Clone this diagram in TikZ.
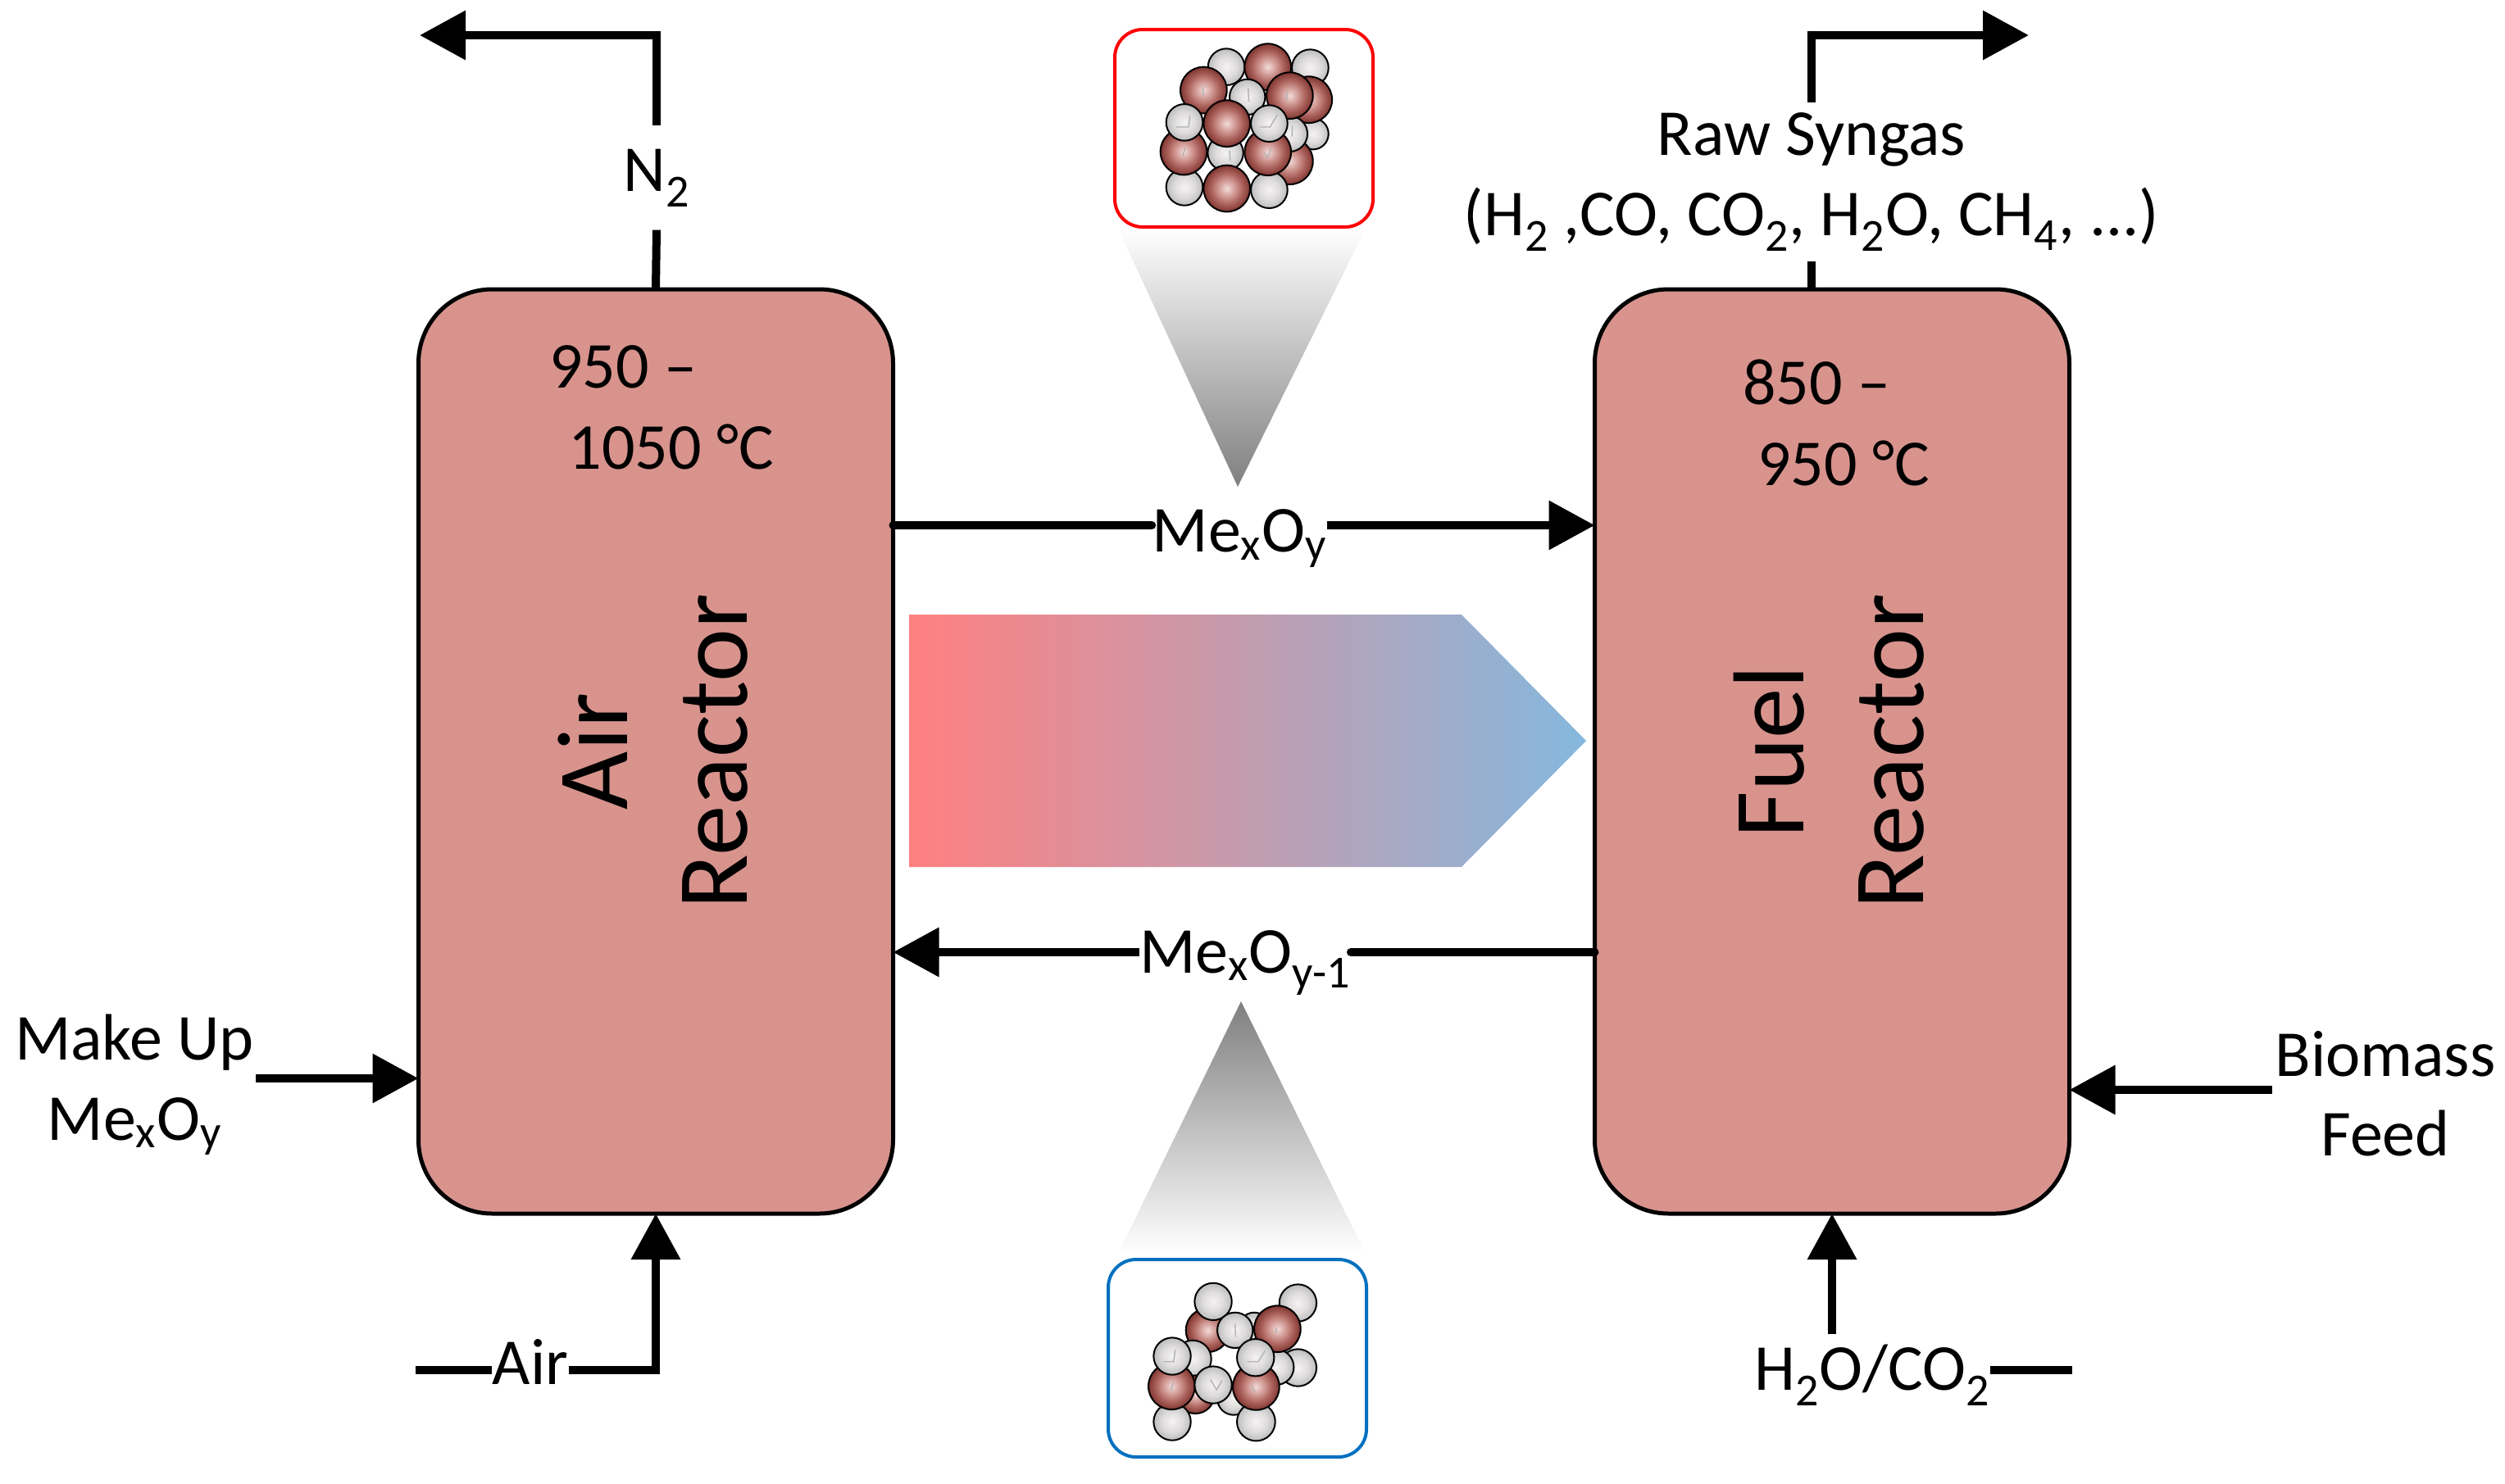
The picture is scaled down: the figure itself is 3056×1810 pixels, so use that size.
\documentclass[tikz,border=0pt]{standalone}
\usepackage{fontspec}
\setmainfont{Carlito}
\usetikzlibrary{arrows.meta}
\definecolor{reactorfill}{RGB}{216,147,141}
\definecolor{gradred}{RGB}{255,128,128}
\definecolor{gradblue}{RGB}{133,184,222}
\definecolor{zoomblue}{RGB}{0,112,192}
\pgfdeclareradialshading{brownball}{\pgfpoint{0bp}{0bp}}{rgb(0bp)=(.95,.86,.85);rgb(9bp)=(.82,.60,.58);rgb(17bp)=(.67,.38,.36);rgb(25bp)=(.50,.21,.19);rgb(50bp)=(.45,.16,.14)}
\pgfdeclareradialshading{grayball}{\pgfpoint{0bp}{0bp}}{rgb(0bp)=(.96,.95,.95);rgb(14bp)=(.87,.86,.86);rgb(25bp)=(.74,.74,.74);rgb(50bp)=(.70,.70,.70)}
\tikzset{
  reactor/.style={draw,line width=2.5pt,fill=reactorfill,rounded corners=45pt,minimum width=289.5pt,minimum height=564pt,inner sep=0pt,outer sep=0pt},
  zoombox/.style={draw=#1,line width=2pt,rounded corners=17pt,minimum width=157.5pt,minimum height=120.5pt,inner sep=0pt,outer sep=0pt},
  flowline/.style={line width=5pt},
  flowarrow/.style={line width=5pt,-{Triangle[length=28pt,width=29pt]}},
  txt/.style={font=\fontsize{40}{48.7}\selectfont,inner sep=0pt,align=center},
  bigtxt/.style={font=\fontsize{61.5}{73}\selectfont,inner sep=0pt,align=center,rotate=90},
  temptxt/.style={font=\fontsize{40}{49.5}\selectfont,inner sep=0pt,align=left},
  brownatom/.style={shading=brownball,draw=black,line width=1pt},
  grayatom/.style={shading=grayball,draw=black,line width=1pt},
  crease/.style={draw=black!30,line width=.7pt}
}
\begin{document}
\begin{tikzpicture}[x=0.5pt,y=-0.5pt]
  \useasboundingbox (0,0) rectangle (3056,1810);

  \node[reactor] (airreactor) at (800,917) {};
  \node[reactor] (fuelreactor) at (2235,917) {};
  \node[bigtxt,yshift=1.5pt] (airname) at (airreactor.center) {Air\\Reactor};
  \node[bigtxt,yshift=2pt] (fuelname) at (fuelreactor.center) {Fuel\\Reactor};
  \node[temptxt] (airtemp) at (807,497) {950 --\\\hspace*{11.7pt}1050 °C};
  \node[temptxt] (fueltemp) at (2240,516) {850 --\\\hspace*{9pt}950 °C};

  \node[txt,inner ysep=14pt] (ntwo) at (801,217) {N\textsubscript{2}};
  \node[txt,inner ysep=6pt] (syngas) at (2210,222) {Raw Syngas\\(H\textsubscript{2} ,CO, CO\textsubscript{2}, H\textsubscript{2}O, CH\textsubscript{4}, ...)};
  \node[txt] (mexoy) at (1512,657) {Me\textsubscript{x}O\textsubscript{y}};
  \node[txt] (mexoyone) at (1519,1175) {Me\textsubscript{x}O\textsubscript{y-1}};
  \node[txt] (makeup) at (164,1324) {Make Up\\Me\textsubscript{x}O\textsubscript{y}};
  \node[txt] (biomass) at (2910,1335) {Biomass\\Feed};
  \node[txt] (air) at (647,1662) {Air};
  \node[txt,inner ysep=6pt] (hocarbon) at (2284,1678) {H\textsubscript{2}O/CO\textsubscript{2}};

  \coordinate (ntwoend) at (512,43);
  \coordinate (syngasend) at (2475,43);
  \coordinate (leanline) at (1512,641);
  \coordinate (richline) at (1518,1162);
  \coordinate (airline) at (507,1672);
  \coordinate (waterline) at (2528,1672);
  \coordinate (makeupline) at (312,1316);
  \coordinate (biomassline) at (2772,1330);

  \draw[flowline] (airreactor.north) -- (ntwo.south);
  \draw[flowarrow] (ntwo.north) |- (ntwoend);
  \draw[flowline] (syngas.south |- fuelreactor.north) -- (syngas.south);
  \draw[flowarrow] (syngas.north) |- (syngasend);
  \draw[flowline,line cap=round] (airreactor.east |- leanline) -- (mexoy.west |- leanline);
  \draw[flowarrow] (mexoy.east |- leanline) -- (fuelreactor.west |- leanline);
  \draw[flowline,line cap=round] (fuelreactor.west |- richline) -- (mexoyone.east |- richline);
  \draw[flowarrow] (mexoyone.west |- richline) -- (airreactor.east |- richline);
  \draw[flowarrow] (makeupline) -- (airreactor.west |- makeupline);
  \draw[flowarrow] (biomassline) -- (fuelreactor.east |- biomassline);
  \draw[flowline] (airline) -- (air.west |- airline);
  \draw[flowarrow] (air.east |- airline) -| (airreactor.south);
  \draw[flowline] (waterline) -- (hocarbon.east |- waterline);
  \draw[flowarrow] (hocarbon.north -| fuelreactor.south) -- (fuelreactor.south);

  \shade[left color=gradred,right color=gradblue] (1109,750) -- (1783,750) -- (1935,904) -- (1783,1058) -- (1109,1058) -- cycle;
  \shade[top color=white,bottom color=gray] (1364,279) -- (1666,279) -- (1510,594) -- cycle;
  \shade[top color=gray,bottom color=white] (1514,1222) -- (1666,1530) -- (1364,1530) -- cycle;

  \node[zoombox=red,fill=white] (oxidized) at (1517.5,156.5) {};
  \node[zoombox=zoomblue,fill=white] (reduced) at (1509.5,1657.5) {};

  \begin{scope}[shift={(1340,20)},x=0.1667pt,y=-0.1667pt]
    \shadedraw[grayatom] (468,185) circle (67);
    \shadedraw[grayatom] (775,188) circle (67);
    \shadedraw[grayatom] (785,430) circle (57);
    \shadedraw[brownatom] (620,185) circle (85);
    \shadedraw[brownatom] (770,305) circle (85);
    \shadedraw[brownatom] (700,530) circle (85);
    \shadedraw[grayatom] (700,430) circle (65);
    \shadedraw[grayatom] (545,295) circle (65);
    \shadedraw[brownatom] (385,270) circle (85);
    \shadedraw[brownatom] (700,290) circle (85);
    \shadedraw[grayatom] (315,625) circle (67);
    \shadedraw[grayatom] (625,635) circle (67);
    \shadedraw[grayatom] (465,500) circle (65);
    \shadedraw[brownatom] (312,495) circle (85);
    \shadedraw[brownatom] (620,497) circle (85);
    \shadedraw[brownatom] (470,630) circle (85);
    \shadedraw[grayatom] (315,388) circle (67);
    \shadedraw[grayatom] (625,392) circle (67);
    \shadedraw[brownatom] (470,392) circle (85);
    \draw[crease] (382,258) -- (385,292);
    \draw[crease] (548,262) -- (550,312);
    \draw[crease] (692,272) -- (688,308);
    \draw[crease] (335,362) -- (330,405) -- (285,405);
    \draw[crease] (318,480) -- (308,512);
    \draw[crease] (480,492) -- (482,528);
    \draw[crease] (605,495) -- (617,518) -- (632,485);
    \draw[crease] (655,360) -- (628,405) -- (590,405);
    \draw[crease] (710,400) -- (708,440);
  \end{scope}

  \begin{scope}[shift={(1330,1520)},x=0.1667pt,y=-0.1667pt]
    \shadedraw[grayatom] (760,210) circle (68);
    \shadedraw[grayatom] (760,447) circle (68);
    \shadedraw[grayatom] (680,445) circle (65);
    \shadedraw[grayatom] (600,300) circle (55);
    \shadedraw[brownatom] (430,310) circle (80);
    \shadedraw[brownatom] (685,305) circle (85);
    \shadedraw[grayatom] (450,205) circle (68);
    \shadedraw[grayatom] (530,310) circle (65);
    \shadedraw[grayatom] (375,415) circle (68);
    \shadedraw[brownatom] (385,545) circle (70);
    \shadedraw[grayatom] (525,560) circle (60);
    \shadedraw[grayatom] (300,645) circle (68);
    \shadedraw[grayatom] (607,645) circle (70);
    \shadedraw[brownatom] (298,515) circle (85);
    \shadedraw[brownatom] (607,517) circle (85);
    \shadedraw[grayatom] (300,405) circle (68);
    \shadedraw[grayatom] (605,410) circle (68);
    \shadedraw[grayatom] (450,510) circle (68);
    \draw[crease] (530,285) -- (532,335);
    \draw[crease] (312,380) -- (305,425) -- (268,425);
    \draw[crease] (305,500) -- (295,530);
    \draw[crease] (590,512) -- (602,535);
    \draw[crease] (440,490) -- (462,528) -- (482,495);
    \draw[crease] (640,385) -- (615,425) -- (575,425);
    \draw[crease] (682,300) -- (680,320);
  \end{scope}
\end{tikzpicture}
\end{document}
